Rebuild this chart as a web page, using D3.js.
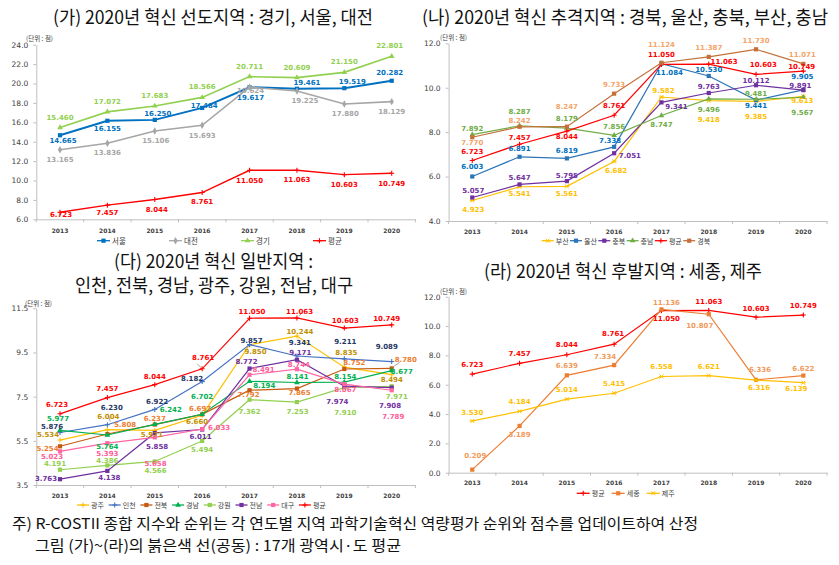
<!DOCTYPE html>
<html><head><meta charset="utf-8">
<script src="https://cdn.jsdelivr.net/npm/d3@7"></script>
<style>body{margin:0;background:#fff}svg{display:block}</style>
</head><body><svg id="c" width="839" height="565"></svg>
<script>
// ---------- DATA ----------
const years = ['2013','2014','2015','2016','2017','2018','2019','2020'];
const nationalAvg = [6.723, 7.457, 8.044, 8.761, 11.050, 11.063, 10.603, 10.749];
// (가)
const seoul    = [14.665, 16.155, 16.250, 17.484, 19.617, 19.461, 19.519, 20.282];
const daejeon  = [13.165, 13.836, 15.106, 15.693, 19.624, 19.225, 17.880, 18.129];
const gyeonggi = [15.460, 17.072, 17.683, 18.566, 20.711, 20.609, 21.150, 22.801];
// (나)
const busan     = [4.923, 5.541, 5.561, 6.682, 9.582, 9.418, 9.385, 9.613];
const ulsan     = [6.003, 6.891, 6.819, 7.338, 11.084, 10.530, 9.441, 9.905];
const chungbuk  = [5.057, 5.647, 5.795, 7.051, 9.341, 9.763, 10.112, 9.891];
const chungnam  = [7.892, 8.287, 8.179, 7.856, 8.747, 9.496, 9.481, 9.567];
const gyeongbuk = [7.770, 8.242, 8.247, 9.733, 11.124, 11.387, 11.730, 11.071];
// (다)
const gwangju   = [5.534, 6.004, 5.971, 6.660, 9.850, 10.244, 8.835, 8.494];
const incheon   = [5.876, 6.230, 6.922, 8.182, 9.857, 9.341, 9.211, 9.089];
const jeonbuk   = [5.254, 5.808, 6.237, 6.697, 7.792, 7.865, 8.752, 8.780];
const gyeongnam = [5.977, 5.764, 6.242, 6.702, 8.194, 8.141, 8.154, 8.677];
const gangwon   = [4.191, 4.386, 4.566, 5.494, 7.362, 7.253, 7.910, 7.971];
const jeonnam   = [3.763, 4.138, 5.858, 6.011, 8.772, 9.171, 7.974, 7.908];
const daegu     = [5.023, 5.393, 5.658, 6.033, 8.491, 8.744, 8.067, 7.789];
// (라)
const sejong = [0.209, 3.189, 6.639, 7.334, 11.136, 10.807, 6.336, 6.622];
const jeju   = [3.530, 4.184, 5.014, 5.415, 6.558, 6.621, 6.316, 6.139];

// tick values
const ticksA = [6, 8, 10, 12, 14, 16, 18, 20, 22, 24];
const ticksB = [4, 6, 8, 10, 12];
const ticksC = [3.5, 5.5, 7.5, 9.5, 11.5];
const ticksD = [0, 2, 4, 6, 8, 10, 12];

// titles / notes
const titleA = '(가) 2020년 혁신 선도지역 : 경기, 서울, 대전';
const titleB = '(나) 2020년 혁신 추격지역 : 경북, 울산, 충북, 부산, 충남';
const titleC1 = '(다) 2020년 혁신 일반지역 :';
const titleC2 = '인천, 전북, 경남, 광주, 강원, 전남, 대구';
const titleD = '(라) 2020년 혁신 후발지역 : 세종, 제주';
const note1 = '주) R-COSTII 종합 지수와 순위는 각 연도별 지역 과학기술혁신 역량평가 순위와 점수를 업데이트하여 산정';
const note2 = '그림 (가)~(라)의 붉은색 선(공동) : 17개 광역시·도 평균';
const unitText = '(단위 : 점)';

// ---------- LABEL PLACEMENT (layout only) ----------
const off = {
  A: {
    seoul:    [[3,6],[0,8],[3,-6],[2,-2],[1,11],[10,-6],[8,-6],[-2,-8]],
    daejeon:  [[0,10.7],[0,9.7],[1,10],[0,10.7],[1,4],[8,10],[1,10],[0,10]],
    gyeonggi: [[0,-9.3],[0,-9.7],[0,-9.7],[0,-10],[0,-10],[0,-10],[0,-10],[-2,-10.7]],
    avg:      [[1,3],[0,8],[2,11],[0,9.7],[0,10.3],[0,10.3],[0,10.3],[0,10.3]]
  },
  B: {
    busan:     [[1,9.8],[0,7.2],[0,7.7],[2,9.2],[2,-6],[0,19.3],[0,15.2],[-1,4.6]],
    ulsan:     [[0,-9.2],[0,-8.2],[0,-7.1],[-4,-5.9],[8,9],[0,-6],[0,5.4],[-1,-13.2]],
    chungbuk:  [[1,-6.2],[0,-6.1],[0,-5.2],[15.7,2.7],[15,4.2],[0,-5.7],[0,-4.7],[-3,-4.2]],
    chungnam:  [[0,-5.9],[0,-14.2],[0,-8.9],[0,-8.7],[0,9.4],[0,11.2],[0,-4.8],[-1,15.3]],
    avg:       [[0,-8.2],[0,-5.9],[0,6.1],[0,-9],[0,-9.5],[15.3,-2.2],[7.3,-9.4],[-1.7,-3.8]],
    gyeongbuk: [[0,5.4],[0,-6.1],[0,-20],[0,-8.7],[0,-17.9],[0,-8.7],[0,-8.7],[-1,-9]]
  },
  C: {
    gwangju:   [[-12,-5.4],[1,-12.4],[-3,5],[-5,7],[6,7.5],[3,-3.8],[2,-14],[0,5.3]],
    incheon:   [[-8,-5.8],[4.4,-16.4],[2.4,-7.9],[-10,-2.6],[2,-4],[3,-12.7],[1,-17.2],[-5,-15]],
    jeonbuk:   [[-12.5,3],[17.7,-9],[0,-6],[-2,-5],[-1,5],[2.6,4.7],[10,-6],[14,-8.5]],
    gyeongnam: [[-2,-11.3],[0,12],[16,-14.5],[0,-17.6],[14.7,4.6],[0.6,-5.2],[1,-5],[10,1]],
    gangwon:   [[-5,-5.7],[0,-4.4],[0.7,10],[0,9],[0,12],[0.6,9.6],[1,25],[5,11]],
    jeonnam:   [[-14,0],[2,7],[2.4,13.8],[-1.7,7],[-3,-7],[3.3,-6.7],[-7,15.8],[-1.7,18]],
    daegu:     [[-8,5.3],[0,11.3],[0.7,26.7],[17,-1],[14,-5],[2,-4],[1,6],[1.6,27]],
    avg:       [[-3,-8.5],[0,-8.3],[0,-8],[1,-11],[2.4,-6],[2.6,-5.7],[1,-7.2],[-5,-5.7]]
  },
  D: {
    avg:    [[0,-9],[0,-9.3],[0,-9.4],[-1,-9.9],[5,8],[0,-8.7],[0,-8.2],[0,-9.3]],
    sejong: [[3,-14],[0,9],[0,-9.3],[-9,-8.5],[5,-6.6],[-9,12],[4,-9.8],[0,-6.2]],
    jeju:   [[0,-8.3],[0,-9],[0,-9],[0,-9.3],[0,-9.2],[0,-9],[3,8.3],[-7,6.7]]
  }
};

// ---------- PANELS ----------
const RED = '#FF0000';
const panels = [
  { x0: 36.3, x1: 415.4, yTop: 44.7, yBot: 219.3, domain: [6, 24], ticks: ticksA, xLabelY: 231,
    legend: {y: 240.7, x0: 97, step: 72, len: 13, fs: 7.5}, unit: {x: 26, y: 38.3},
    series: [
      {name:'서울', data: seoul, line:'#0070C0', lab:'#0070C0', m:'square', w:2, off: off.A.seoul},
      {name:'대전', data: daejeon, line:'#A6A6A6', lab:'#A6A6A6', m:'diamond', w:1.6, off: off.A.daejeon},
      {name:'경기', data: gyeonggi, line:'#92D050', lab:'#92D050', m:'triangle', w:1.6, off: off.A.gyeonggi},
      {name:'평균', data: nationalAvg, line:RED, lab:RED, m:'plus', w:1.4, off: off.A.avg}
    ]},
  { x0: 448.6, x1: 827, yTop: 43.3, yBot: 221, domain: [4, 12], ticks: ticksB, xLabelY: 231.7,
    legend: {y: 240.7, x0: 541.7, step: 28.3, len: 12, fs: 7}, unit: {x: 440, y: 37},
    series: [
      {name:'부산', data: busan, line:'#FFC000', lab:'#FFC000', m:'star', w:1.2, off: off.B.busan},
      {name:'울산', data: ulsan, line:'#2E75B6', lab:'#0070C0', m:'square', w:1.2, off: off.B.ulsan},
      {name:'충북', data: chungbuk, line:'#7030A0', lab:'#7030A0', m:'square', w:1.2, off: off.B.chungbuk},
      {name:'충남', data: chungnam, line:'#70AD47', lab:'#70AD47', m:'triangle', w:1.2, off: off.B.chungnam},
      {name:'평균', data: nationalAvg, line:RED, lab:RED, m:'plus', w:1.2, off: off.B.avg},
      {name:'경북', data: gyeongbuk, line:'#C5703A', lab:'#F4A46A', m:'square', w:1.2, off: off.B.gyeongbuk}
    ]},
  { x0: 36.3, x1: 415.4, yTop: 308.3, yBot: 485, domain: [3.5, 11.5], ticks: ticksC, xLabelY: 495.7,
    legend: {y: 505, x0: 77, step: 31.7, len: 12, fs: 7}, unit: {x: 25, y: 303},
    leaders: [{s: 1, i: 1, dx1: 3, dy1: -3, dx2: 1, dy2: -9}, {s: 7, i: 5, dx1: 2, dy1: -2, dx2: 6, dy2: -6},
              {s: 2, i: 7, dx1: 2, dy1: -2, dx2: 8, dy2: -6}, {s: 7, i: 3, dx1: -1, dy1: -1, dx2: -5, dy2: -5}],
    series: [
      {name:'광주', data: gwangju, line:'#FFC000', lab:'#C09000', m:'plus', w:1.2, off: off.C.gwangju},
      {name:'인천', data: incheon, line:'#4472C4', lab:'#1F3864', m:'plus', w:1.2, off: off.C.incheon},
      {name:'전북', data: jeonbuk, line:'#C55A11', lab:'#ED7D31', m:'square', w:1.2, off: off.C.jeonbuk},
      {name:'경남', data: gyeongnam, line:'#00B050', lab:'#00B050', m:'triangle', w:1.2, off: off.C.gyeongnam},
      {name:'강원', data: gangwon, line:'#92D050', lab:'#92D050', m:'square', w:1.2, off: off.C.gangwon},
      {name:'전남', data: jeonnam, line:'#7030A0', lab:'#7030A0', m:'square', w:1.2, off: off.C.jeonnam},
      {name:'대구', data: daegu, line:'#FF66A3', lab:'#FF5C9A', m:'square', w:1.2, off: off.C.daegu},
      {name:'평균', data: nationalAvg, line:RED, lab:RED, m:'plus', w:1.2, off: off.C.avg}
    ]},
  { x0: 448.6, x1: 827, yTop: 296.7, yBot: 472.7, domain: [0, 12], ticks: ticksD, xLabelY: 482.7,
    legend: {y: 493.3, x0: 576.7, step: 35, len: 13, fs: 7}, unit: {x: 440, y: 290.5},
    series: [
      {name:'평균', data: nationalAvg, line:RED, lab:RED, m:'plus', w:1.2, off: off.D.avg},
      {name:'세종', data: sejong, line:'#ED7D31', lab:'#F29A5C', m:'square', w:1.2, off: off.D.sejong},
      {name:'제주', data: jeju, line:'#FFC000', lab:'#FFC000', m:'star', w:1.2, off: off.D.jeju}
    ]}
];

// ---------- DRAW ----------
const svg = d3.select('#c');
const AX = '#BFBFBF';
const NUMF = '"DejaVu Sans", Verdana, sans-serif';
const KF = '"Noto Sans CJK KR", sans-serif';
const fmt3 = d3.format('.3f');

function marker(g, type, x, y, color) {
  const s = 4.2;
  if (type === 'square') {
    g.append('rect').attr('x', x - s/2).attr('y', y - s/2).attr('width', s).attr('height', s).attr('fill', color);
  } else if (type === 'diamond') {
    g.append('path').attr('d', d3.symbol(d3.symbolDiamond, 16)()).attr('transform', `translate(${x},${y})`).attr('fill', color);
  } else if (type === 'triangle') {
    g.append('path').attr('d', d3.symbol(d3.symbolTriangle, 14)()).attr('transform', `translate(${x},${y})`).attr('fill', color);
  } else if (type === 'plus') {
    g.append('path').attr('d', `M${x-2.5},${y}H${x+2.5}M${x},${y-2.5}V${y+2.5}`).attr('stroke', color).attr('stroke-width', 1.1);
  } else if (type === 'star') {
    g.append('path').attr('d', `M${x-2.5},${y}H${x+2.5}M${x-1.8},${y-2}L${x+1.8},${y+2}M${x-1.8},${y+2}L${x+1.8},${y-2}`)
      .attr('stroke', color).attr('stroke-width', 1);
  }
}

panels.forEach(p => {
  const g = svg.append('g');
  const x = d3.scaleBand().domain(years).range([p.x0, p.x1]);
  const y = d3.scaleLinear().domain(p.domain).range([p.yBot, p.yTop]);
  const cx = yr => x(yr) + x.bandwidth() / 2;

  // y axis
  const ya = g.append('g').attr('transform', `translate(${p.x0},0)`)
    .call(d3.axisLeft(y).tickValues(p.ticks).tickFormat(d3.format('.1f')).tickSize(3).tickSizeOuter(0).tickPadding(5));
  ya.select('.domain').attr('stroke', AX);
  ya.selectAll('.tick line').attr('stroke', AX);
  ya.selectAll('text').attr('font-family', NUMF).attr('font-size', 7.5).attr('fill', '#404040');

  // x axis
  const xa = g.append('g').attr('transform', `translate(0,${p.yBot})`)
    .call(d3.axisBottom(x).tickSize(0).tickSizeOuter(0));
  xa.select('.domain').attr('stroke', AX);
  xa.selectAll('text').attr('y', p.xLabelY - p.yBot).attr('dy', '0.35em')
    .attr('font-family', NUMF).attr('font-size', 6).attr('font-weight', 'bold').attr('fill', '#404040');
  g.append('g').selectAll('line').data(d3.range(years.length + 1)).join('line')
    .attr('x1', i => p.x0 + i * x.step()).attr('x2', i => p.x0 + i * x.step())
    .attr('y1', p.yBot).attr('y2', p.yBot + 3).attr('stroke', AX);

  // unit
  g.append('text').attr('x', p.unit.x).attr('y', p.unit.y).attr('dominant-baseline', 'central')
    .attr('font-family', KF).attr('font-size', 6.5).attr('fill', '#404040').text(unitText);

  // series lines & markers
  p.series.forEach(s => {
    g.append('path').datum(s.data)
      .attr('d', d3.line().x((d, i) => cx(years[i])).y(d => y(d)))
      .attr('fill', 'none').attr('stroke', s.line).attr('stroke-width', s.w);
    const mg = g.append('g');
    s.data.forEach((d, i) => marker(mg, s.m, cx(years[i]), y(d), s.line));
  });
  // small leader lines
  (p.leaders || []).forEach(l => {
    const s = p.series[l.s];
    const px = cx(years[l.i]), py = y(s.data[l.i]);
    g.append('line').attr('x1', px + l.dx1).attr('y1', py + l.dy1).attr('x2', px + l.dx2).attr('y2', py + l.dy2)
      .attr('stroke', '#808080').attr('stroke-width', 0.7);
  });
  // labels
  p.series.forEach(s => {
    g.append('g').selectAll('text').data(s.data).join('text')
      .attr('x', (d, i) => cx(years[i]) + s.off[i][0])
      .attr('y', (d, i) => y(d) + s.off[i][1])
      .attr('text-anchor', 'middle').attr('dominant-baseline', 'central')
      .attr('font-family', NUMF).attr('font-size', 7).attr('font-weight', 'bold')
      .attr('fill', s.lab).text(d => fmt3(d));
  });

  // legend
  const L = p.legend;
  p.series.forEach((s, i) => {
    const lx = L.x0 + i * L.step;
    const lg = g.append('g');
    lg.append('line').attr('x1', lx).attr('x2', lx + L.len).attr('y1', L.y).attr('y2', L.y)
      .attr('stroke', s.line).attr('stroke-width', 1.3);
    marker(lg, s.m, lx + L.len / 2, L.y, s.line);
    lg.append('text').attr('x', lx + L.len + 2).attr('y', L.y).attr('dominant-baseline', 'central')
      .attr('font-family', KF).attr('font-size', L.fs).attr('fill', '#404040').text(s.name);
  });
});

// titles
function title(txt, cxp, base, w, fs) {
  svg.append('text').attr('x', cxp - w / 2).attr('y', base).attr('textLength', w)
    .attr('lengthAdjust', 'spacingAndGlyphs')
    .attr('font-family', KF).attr('font-size', fs).attr('fill', '#111').text(txt);
}
title(titleA, 213, 24, 320, 18);
title(titleB, 625, 24, 406, 18);
title(titleC1, 213.5, 268, 199, 18);
title(titleC2, 214, 291.5, 278, 18);
title(titleD, 623, 278, 278, 18);
function note(txt, x0, base, w) {
  svg.append('text').attr('x', x0).attr('y', base).attr('textLength', w)
    .attr('lengthAdjust', 'spacingAndGlyphs')
    .attr('font-family', KF).attr('font-size', 15).attr('fill', '#111').text(txt);
}
note(note1, 12, 528.5, 686);
note(note2, 35, 551, 366);
</script></body></html>
